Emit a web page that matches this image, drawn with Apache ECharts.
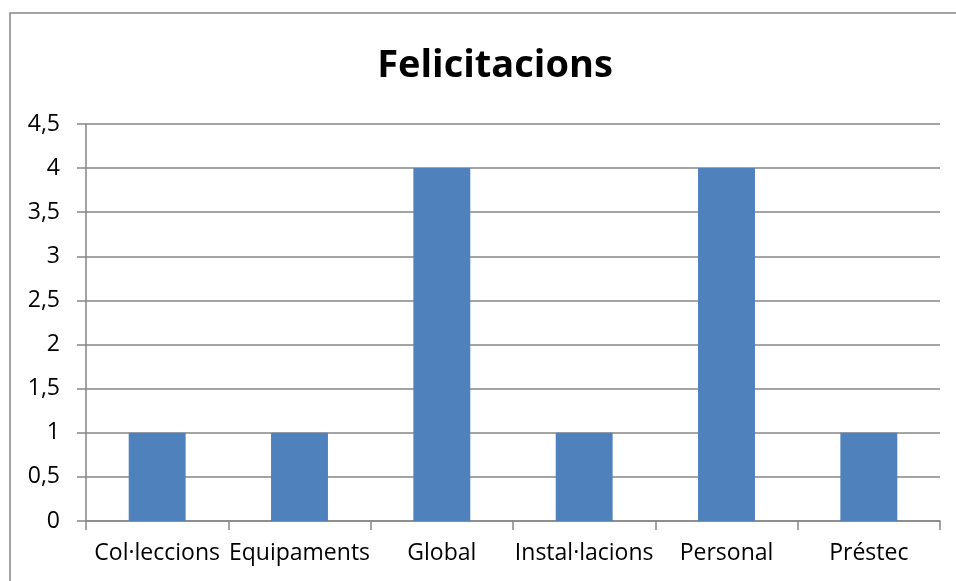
<!DOCTYPE html>
<html>
<head>
<meta charset="utf-8">
<script src="https://cdn.jsdelivr.net/npm/echarts@6/dist/echarts.min.js"></script>
<style>
  html, body { margin: 0; padding: 0; background: #fff; }
  #main { width: 956px; height: 581px; }
</style>
</head>
<body>
<div id="main"></div>
<script>
var categories = ["Col·leccions", "Equipaments", "Global", "Instal·lacions", "Personal", "Préstec"];
var values = [1, 1, 4, 1, 4, 1];
var yTicks = [0, 0.5, 1, 1.5, 2, 2.5, 3, 3.5, 4, 4.5];

var myChart = echarts.init(document.getElementById("main"));
var gray = "#868686";
var font = "'Open Sans', sans-serif";

var option = {
  animation: false,
  // marco del gráfico
  graphic: [
    {
      type: "rect",
      shape: { x: 10, y: 13, width: 980, height: 620 },
      style: { fill: "none", stroke: gray, lineWidth: 1.5 },
      silent: true
    }
  ],
  title: {
    text: "Felicitacions",
    left: 490,
    textAlign: "center",
    top: 42,
    textStyle: { fontFamily: font, fontSize: 38, fontWeight: "bold", color: "#000" }
  },
  grid: { left: 86, right: 16, top: 124, bottom: 60, containLabel: false },
  xAxis: {
    type: "category",
    data: categories,
    axisLine: { show: true, lineStyle: { color: gray, width: 1.5 } },
    axisTick: { show: true, length: 9, lineStyle: { color: gray, width: 1.5 } },
    axisLabel: { color: "#000", fontFamily: font, fontSize: 23, margin: 21, interval: 0 }
  },
  yAxis: {
    type: "value",
    min: yTicks[0],
    max: yTicks[yTicks.length - 1],
    interval: 0.5,
    axisLine: { show: true, lineStyle: { color: gray, width: 1.5 } },
    axisTick: { show: true, length: 9, lineStyle: { color: gray, width: 1.5 } },
    splitLine: { show: true, lineStyle: { color: gray, width: 1.5 } },
    axisLabel: {
      color: "#000",
      fontFamily: font,
      fontSize: 23,
      margin: 26,
      formatter: function (v) { return String(v).replace(".", ","); }
    }
  },
  series: [
    {
      type: "bar",
      data: values,
      barWidth: "40%",
      itemStyle: { color: "#4F81BD" }
    }
  ]
};

myChart.setOption(option);
</script>
</body>
</html>
